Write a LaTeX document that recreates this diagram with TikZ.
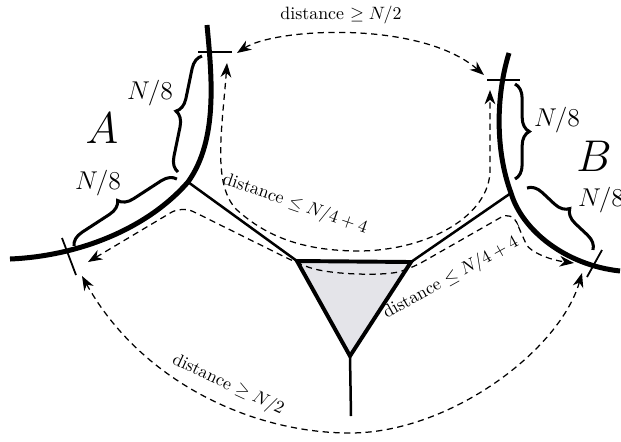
\documentclass[tikz,border=0pt]{standalone}
\usepackage{amsmath}
\usepackage{tikz}
\usetikzlibrary{arrows.meta,decorations.pathreplacing}
\definecolor{trigray}{RGB}{228,228,233}
\tikzset{
  boundary/.style={line width=2.8pt},
  branch/.style={line width=1.4pt},
  tickmark/.style={line width=1pt},
  bracemark/.style={decorate, decoration={brace, amplitude=8pt}, line width=1.7pt},
  distarr/.style={{Stealth[length=8pt,width=6pt,inset=2.5pt]}-{Stealth[length=8pt,width=6pt,inset=2.5pt]},
                  dash pattern=on 3.5pt off 2.5pt, line width=0.7pt},
  eighth/.style={font=\Large},
  setlabel/.style={font=\fontsize{37}{40}\selectfont},
  distlabel/.style={font=\normalsize, inner sep=1pt}
}

\begin{document}
\begin{tikzpicture}[x=0.56pt, y=-0.56pt]
  \useasboundingbox (0,0) rectangle (621,441);

  % Junctions and triangle corners
  \coordinate (ja) at (188,182);
  \coordinate (jb) at (511,193);
  \coordinate (jc) at (351,416);
  \coordinate (t1) at (297,261);
  \coordinate (t2) at (411,262);
  \coordinate (t3) at (350,356);

  % Arrow ends near the tick marks
  \coordinate (ta) at (237,53);
  \coordinate (tb) at (484,75);
  \coordinate (la) at (227,63);
  \coordinate (lb) at (490,90);
  \coordinate (ma) at (88,262);
  \coordinate (mb) at (574,263);
  \coordinate (ba) at (82,276);
  \coordinate (bb) at (582,273);

  % Boundary arcs A and B
  \draw[boundary] (207,25) .. controls (212,78) and (218,140) .. (ja)
                  .. controls (148,228) and (80,256) .. (10,259);
  \draw[boundary] (509,53) .. controls (496,95) and (495,150) .. (jb)
                  .. controls (522,230) and (565,265) .. (620,271);

  % Tick marks
  \draw[tickmark] (198,52) -- (232,52);
  \draw[tickmark] (62,238) -- (76,275);
  \draw[tickmark] (487,80) -- (520,80);
  \draw[tickmark] (587,277) -- (602,250);

  % Triangle and branches
  \draw[branch] (ja) -- (t1);
  \draw[branch] (jb) -- (t2);
  \draw[branch] (t3) -- (jc);
  \draw[line width=2.2pt, fill=trigray, line join=miter] (t1) -- (t2) -- (t3) -- cycle;

  % Braces
  \draw[bracemark] (178,172) -- (202,56);
  \draw[bracemark] (74,246) -- (177,179);
  \draw[bracemark] (515,84) -- (515,179);
  \draw[bracemark] (527,188) -- (593,250);
  \node[eighth] (na1) at (150,93) {$N/8$};
  \node[eighth] (na2) at (98,183) {$N/8$};
  \node[eighth] (nb1) at (557,120) {$N/8$};
  \node[eighth] (nb2) at (601,200) {$N/8$};

  % Set labels
  \node[setlabel] (setA) at (102,128) {$A$};
  \node[setlabel] (setB) at (594,156) {$B$};

  % Distance arrows
  \draw[distarr] (ta) .. controls (275,28) and (420,20) .. (tb);
  \draw[distarr] (ba) .. controls (140,380) and (250,433) .. (350,433)
                      .. controls (450,433) and (560,350) .. (bb);
  \draw[distarr] (la) .. controls (222,130) and (212,185) .. (237,210)
                      .. controls (265,235) and (300,251) .. (360,251)
                      .. controls (430,250) and (490,215) .. (490,170) -- (lb);
  \draw[distarr, rounded corners=7pt] (ma) -- (182,206) -- (297,263)
        .. controls (330,275) and (385,276) .. (412,268) -- (512,211) -- (521,233)
        .. controls (530,252) and (550,260) .. (mb);

  % Distance labels
  \node[distlabel] (dtop) at (341,15) {distance $\geq N/2$};
  \node[distlabel, rotate=-25] (dbot) at (228,385) {distance $\geq N/2$};
  \node[distlabel, rotate=-19] (dleft) at (295,204) {distance $\leq N/4+4$};
  \node[distlabel, rotate=29] (dright) at (451,278) {distance $\leq N/4+4$};
\end{tikzpicture}
\end{document}
